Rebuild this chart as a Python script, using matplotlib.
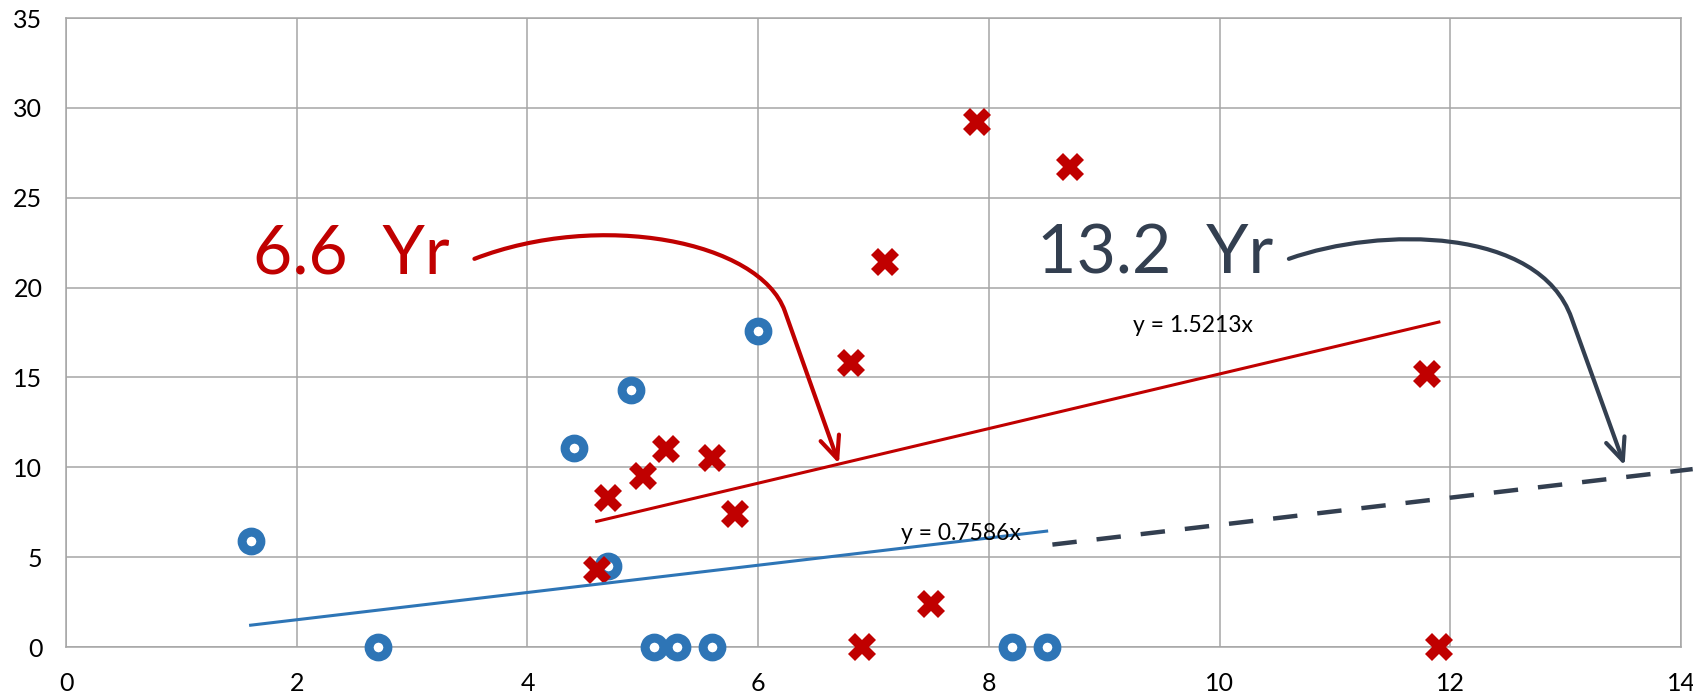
import numpy as np
import matplotlib
matplotlib.use('Agg')
from matplotlib import pyplot as plt
from matplotlib.path import Path
from matplotlib.patches import FancyArrowPatch

plt.rcParams['font.family'] = ['Lato', 'DejaVu Sans']

# series
blue_x = [1.6, 2.7, 4.4, 4.7, 4.9, 5.1, 5.3, 5.6, 6.0, 8.2, 8.5]
blue_y = [5.9, 0, 11.1, 4.5, 14.3, 0, 0, 0, 17.6, 0, 0]
red_x = [4.6, 4.7, 5.0, 5.2, 5.6, 5.8, 6.8, 6.9, 7.1, 7.5, 7.9, 8.7, 11.8, 11.9]
red_y = [4.3, 8.3, 9.5, 11.0, 10.5, 7.4, 15.8, 0, 21.4, 2.4, 29.2, 26.7, 15.2, 0]

blue_eq = 'y = 0.7586x'
red_eq = 'y = 1.5213x'

# hand drawn extension of the blue fit
ext_x = [8.55, 14.1]
ext_y = [5.7, 9.9]

# curved arrows: start, two control points, bend, tip
red_arrow = [(3.54, 21.6), (4.63, 24.3), (6.01, 22.6), (6.23, 18.7), (6.70, 10.2)]
dark_arrow = [(10.60, 21.6), (11.39, 23.4), (12.77, 23.4), (13.05, 18.3), (13.51, 10.1)]

BLUE = '#2E75B6'
RED = '#C00000'
DARK = '#333F50'
GRID = '#A6A6A6'


def fit_origin(x, y):
    """least squares slope of a line through the origin"""
    x = np.asarray(x, float)
    y = np.asarray(y, float)
    return (x * y).sum() / (x * x).sum()


fig = plt.figure(figsize=(16.93, 6.94), dpi=100)
ax = fig.add_axes([0.039, 0.0677, 0.954, 0.9063])

ax.set_xlim(0, 14)
ax.set_ylim(0, 35)
ax.set_xticks(range(0, 15, 2))
ax.set_yticks(range(0, 36, 5))
ax.grid(True, color=GRID, lw=1.1, zorder=0)
for s in ax.spines.values():
    s.set_color(GRID)
    s.set_linewidth(1.1)
ax.tick_params(length=0, labelsize=18, colors='black')
ax.tick_params(axis='y', pad=17)
ax.tick_params(axis='x', pad=18)

ax.plot(blue_x, blue_y, 'o', ms=13.5, mew=6.5, mec=BLUE, mfc='white', ls='none',
        clip_on=False, zorder=3)
ax.plot(red_x, red_y, 'X', ms=20, mew=0, color=RED, ls='none', clip_on=False, zorder=4)

# trendlines through the origin
for xs, ys, c in [(blue_x, blue_y, BLUE), (red_x, red_y, RED)]:
    k = fit_origin(xs, ys)
    xx = np.array([min(xs), max(xs)])
    ax.plot(xx, k * xx, color=c, lw=2.2, zorder=5)

ax.plot(ext_x, ext_y, color=DARK, lw=3.2, dashes=(5.5, 4.5), solid_capstyle='butt',
        clip_on=False, zorder=5)

ax.text(7.76, 6.33, blue_eq, fontsize=16.5, ha='center', va='center', zorder=6)
ax.text(9.77, 17.9, red_eq, fontsize=16.5, ha='center', va='center', zorder=6)

ax.text(1.62, 20.8, '6.6  Yr', fontsize=49, color=RED, ha='left', va='baseline', zorder=6)
ax.text(8.42, 20.8, '13.2  Yr', fontsize=49, color=DARK, ha='left', va='baseline', zorder=6)

codes = [Path.MOVETO, Path.CURVE4, Path.CURVE4, Path.CURVE4, Path.LINETO]
for pts, c in [(red_arrow, RED), (dark_arrow, DARK)]:
    arr = FancyArrowPatch(path=Path(pts, codes),
                          arrowstyle='->,head_length=0.8,head_width=0.35',
                          mutation_scale=20, color=c, lw=3, zorder=7)
    ax.add_patch(arr)

plt.savefig('out.png', dpi=100)
